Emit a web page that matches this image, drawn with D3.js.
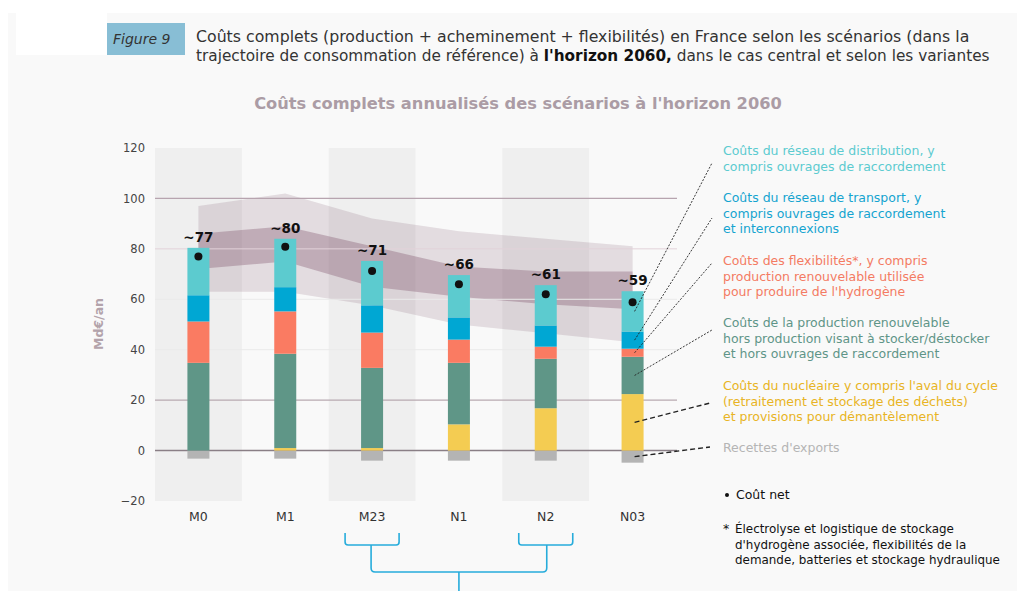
<!DOCTYPE html>
<html>
<head>
<meta charset="utf-8">
<script src="https://cdn.jsdelivr.net/npm/d3@7"></script>
<style>
    body { margin: 0; background: #fff; }
    svg text { font-family: "DejaVu Sans", "Noto Sans", sans-serif; }
</style>
</head>
<body>
<script>
// Scenarios
const categories = ["M0", "M1", "M23", "N1", "N2", "N03"];
const shadedCategories = ["M0", "M23", "N2"];

// Stack values, Md€/an
const exportsRev = [-3.2, -3.2, -4, -4, -4, -4.8];
const nuclear = [0, 1, 1, 10.4, 16.8, 22.4];
const renewables = [34.8, 37.4, 31.8, 24.4, 19.6, 14.8];
const flexibility = [16.4, 16.8, 14, 9.2, 4.8, 3.2];
const transport = [10.4, 9.6, 10.8, 8.8, 8.4, 6.8];
const distribution = [18.8, 19.2, 17.6, 16.8, 16, 16];

// Net cost dots + labels
const netCost = [77, 80.8, 71.2, 66, 62, 58.8];
const netLabels = ["~77", "~80", "~71", "~66", "~61", "~59"];

// Variant envelopes
const outerHigh = [97, 102, 92, 87, 84, 81];
const innerHigh = [86, 89, 81, 73, 71, 71];
const innerLow = [72, 75, 65, 61, 58, 56];
const outerLow = [63, 63, 57.5, 50, 46.5, 43];

const yTicks = [120, 100, 80, 60, 40, 20, 0, -20];

const keys = ["exports", "nuclear", "renewables", "flexibility", "transport", "distribution"];
const colors = {
    exports: "#b4b4b4",
    nuclear: "#f4cc52",
    renewables: "#5f9687",
    flexibility: "#fa7b62",
    transport: "#00a7d3",
    distribution: "#5ccbcf"
};
const legendColors = {
    distribution: "#5ccbd0",
    transport: "#15a4d0",
    flexibility: "#f47b63",
    renewables: "#5f9588",
    nuclear: "#e8b424",
    exports: "#b5b5b5"
};
const legendItems = [
    { key: "distribution", y: 155, lines: ["Coûts du réseau de distribution, y", "compris ouvrages de raccordement"], end: [712, 163] },
    { key: "transport", y: 202, lines: ["Coûts du réseau de transport, y", "compris ouvrages de raccordement", "et interconnexions"], end: [712, 218] },
    { key: "flexibility", y: 265, lines: ["Coûts des flexibilités*, y compris", "production renouvelable utilisée", "pour produire de l'hydrogène"], end: [712, 263] },
    { key: "renewables", y: 327, lines: ["Coûts de la production renouvelable", "hors production visant à stocker/déstocker", "et hors ouvrages de raccordement"], end: [712, 330] },
    { key: "nuclear", y: 390, lines: ["Coûts du nucléaire y compris l'aval du cycle", "(retraitement et stockage des déchets)", "et provisions pour démantèlement"], end: [710, 403] },
    { key: "exports", y: 452, lines: ["Recettes d'exports"], end: [710, 447] }
];
const noteLines = ["Électrolyse et logistique de stockage", "d'hydrogène associée, flexibilités de la", "demande, batteries et stockage hydraulique"];

const rows = categories.map((c, i) => ({
    cat: c,
    exports: exportsRev[i],
    nuclear: nuclear[i],
    renewables: renewables[i],
    flexibility: flexibility[i],
    transport: transport[i],
    distribution: distribution[i]
}));

const width = 1017;
const height = 591;

const svg = d3.select("body").append("svg")
    .attr("width", width)
    .attr("height", height);

// size a text so it spans the wanted width, returns the size
function fitSize(sel, target) {
    const base = parseFloat(sel.attr("font-size"));
    const w = sel.node().getComputedTextLength();
    const size = base * target / w;
    sel.attr("font-size", size + "px");
    return size;
}

// Page background
svg.append("rect").attr("x", 8).attr("y", 13).attr("width", width - 8).attr("height", height - 13).attr("fill", "#f9f9f9");
svg.append("rect").attr("x", 16).attr("y", 13).attr("width", 91).attr("height", 42).attr("fill", "#fff");
svg.append("rect").attr("x", 107).attr("y", 23).attr("width", 78).attr("height", 32).attr("fill", "#88bed5");
svg.append("text").attr("x", 113).attr("y", 44).attr("font-size", "14px").attr("font-style", "italic")
    .attr("fill", "#333").text("Figure 9");

// Heading
const head = svg.append("g").attr("fill", "#333");
const l1 = head.append("text").attr("x", 196).attr("y", 42).attr("font-size", "14px")
    .text("Coûts complets (production + acheminement + flexibilités) en France selon les scénarios (dans la");
fitSize(l1, 774);
const l2 = head.append("text").attr("x", 196).attr("y", 61).attr("font-size", "14px");
l2.append("tspan").text("trajectoire de consommation de référence) à ");
l2.append("tspan").attr("font-weight", "bold").attr("fill", "#111").text("l'horizon 2060,");
l2.append("tspan").text(" dans le cas central et selon les variantes");
fitSize(l2, 794);

const chartTitle = svg.append("text").attr("x", 518).attr("y", 109).attr("text-anchor", "middle")
    .attr("font-size", "15px").attr("font-weight", "bold").attr("fill", "#ab9ca5")
    .text("Coûts complets annualisés des scénarios à l'horizon 2060");
fitSize(chartTitle, 528);

// Scales
const x = d3.scaleBand().domain(categories).range([155, 676]).padding(0);
const y = d3.scaleLinear().domain([-20, 120]).range([501, 148]);
const cx = c => x(c) + x.bandwidth() / 2;
const barW = 22;

// Shaded columns
svg.append("g").selectAll("rect").data(shadedCategories).join("rect")
    .attr("x", d => x(d)).attr("y", y(120))
    .attr("width", x.bandwidth()).attr("height", y(-20) - y(120))
    .attr("fill", "#efefef");

// Envelopes
const outerArea = d3.area().x((d, i) => cx(categories[i])).y0((d, i) => y(outerLow[i])).y1(d => y(d));
const innerArea = d3.area().x((d, i) => cx(categories[i])).y0((d, i) => y(innerLow[i])).y1(d => y(d));
svg.append("path").datum(outerHigh).attr("d", outerArea).attr("fill", "rgb(120,75,100)").attr("fill-opacity", 0.17);
svg.append("path").datum(innerHigh).attr("d", innerArea).attr("fill", "rgb(120,75,100)").attr("fill-opacity", 0.33);

// Gridlines
const gridStyle = {
    100: ["#b7a4af", 1.3], 80: ["#e2d2d9", 1], 60: ["#eaeaea", 1], 40: ["#eaeaea", 1],
    20: ["#b8aab1", 1.3], 0: ["#8a7f86", 1.5]
};
svg.append("g").selectAll("line").data(Object.keys(gridStyle).map(Number)).join("line")
    .attr("x1", 155).attr("x2", 677)
    .attr("y1", d => y(d)).attr("y2", d => y(d))
    .attr("stroke", d => gridStyle[d][0]).attr("stroke-width", d => gridStyle[d][1]);

// Y axis labels
const yAxis = svg.append("g").attr("transform", "translate(145,0)")
    .call(d3.axisLeft(y).tickValues(yTicks).tickSize(0).tickPadding(0));
yAxis.select(".domain").remove();
yAxis.selectAll("text").attr("font-size", "11.5px").attr("fill", "#444")
    .attr("font-family", "\"DejaVu Sans\", sans-serif");

svg.append("text").attr("transform", "translate(103,324) rotate(-90)")
    .attr("text-anchor", "middle").attr("font-size", "12.5px").attr("font-weight", "bold")
    .attr("fill", "#b3a3ab").text("Md€/an");

// X axis labels
const xAxis = svg.append("g").attr("transform", "translate(0,512)")
    .call(d3.axisBottom(x).tickSize(0).tickPadding(0));
xAxis.select(".domain").remove();
xAxis.selectAll("text").attr("font-size", "12.5px").attr("fill", "#333")
    .attr("font-family", "\"DejaVu Sans\", sans-serif");

// Stacked bars
const stack = d3.stack().keys(keys).offset(d3.stackOffsetDiverging);
const series = stack(rows);
svg.append("g").selectAll("g").data(series).join("g")
    .attr("fill", d => colors[d.key])
    .selectAll("rect").data(d => d).join("rect")
    .attr("x", d => cx(d.data.cat) - barW / 2)
    .attr("y", d => y(Math.max(d[0], d[1])))
    .attr("width", barW)
    .attr("height", d => Math.abs(y(d[0]) - y(d[1])));

// Net cost dots + labels
svg.append("g").selectAll("circle").data(netCost).join("circle")
    .attr("cx", (d, i) => cx(categories[i])).attr("cy", d => y(d))
    .attr("r", 4).attr("fill", "#111");
const tops = series[series.length - 1];
svg.append("g").selectAll("text").data(netLabels).join("text")
    .attr("x", (d, i) => cx(categories[i]))
    .attr("y", (d, i) => y(tops[i][1]) - 6)
    .attr("text-anchor", "middle").attr("font-size", "13.5px").attr("font-weight", "bold")
    .attr("fill", "#111").text(d => d);

// Leader lines from last bar to legend
const last = categories.length - 1;
const leaders = svg.append("g").attr("fill", "none").attr("stroke", "#222");
legendItems.forEach(item => {
    const s = series.find(d => d.key === item.key)[last];
    const heavy = item.key === "nuclear" || item.key === "exports";
    leaders.append("line")
        .attr("x1", cx(categories[last]) + 2).attr("y1", y((s[0] + s[1]) / 2))
        .attr("x2", item.end[0]).attr("y2", item.end[1])
        .attr("stroke-width", heavy ? 1.4 : 0.9)
        .attr("stroke-dasharray", heavy ? "5,3" : "2,1.5");
});

// Legend
const legend = svg.append("g");
const probe = legend.append("text").attr("font-size", "12px").text(legendItems[0].lines[0]);
const legSize = fitSize(probe, 212);
probe.remove();
legend.attr("font-size", legSize + "px");
legendItems.forEach(item => {
    const t = legend.append("text").attr("x", 723).attr("y", item.y).attr("fill", legendColors[item.key]);
    item.lines.forEach((line, k) => {
        t.append("tspan").attr("x", 723).attr("dy", k === 0 ? 0 : 15.7).text(line);
    });
});
legend.append("circle").attr("cx", 727).attr("cy", 495).attr("r", 2).attr("fill", "#111");
legend.append("text").attr("x", 736).attr("y", 499).attr("fill", "#111").text("Coût net");
legend.append("text").attr("x", 723).attr("y", 533).attr("fill", "#111").text("*");
const probe2 = legend.append("text").attr("font-size", "12px").text(noteLines[2]);
const noteSize = fitSize(probe2, 265);
probe2.remove();
const note = legend.append("text").attr("x", 735).attr("y", 533).attr("fill", "#111").attr("font-size", noteSize + "px");
noteLines.forEach((line, k) => note.append("tspan").attr("x", 735).attr("dy", k === 0 ? 0 : 15.5).text(line));

// Bracket grouping M23 and N2
const bracket = svg.append("g").attr("fill", "none").attr("stroke", "#27acdb").attr("stroke-width", 1.6);
const bTop = 533, bBot = 545, bJoin = 572;
["M23", "N2"].forEach(c => {
    const m = cx(c);
    bracket.append("path").attr("d",
        `M${m - 27},${bTop} V${bBot - 3} Q${m - 27},${bBot} ${m - 24},${bBot} H${m + 24} Q${m + 27},${bBot} ${m + 27},${bBot - 3} V${bTop}`);
});
const m1 = cx("M23") - 1, m2 = cx("N2") + 1;
bracket.append("path").attr("d",
    `M${m1},${bBot} V${bJoin - 4} Q${m1},${bJoin} ${m1 + 4},${bJoin} H${m2 - 4} Q${m2},${bJoin} ${m2},${bJoin - 4} V${bBot}`);
bracket.append("line").attr("x1", (m1 + m2) / 2).attr("x2", (m1 + m2) / 2).attr("y1", bJoin).attr("y2", height);
</script>
</body>
</html>
